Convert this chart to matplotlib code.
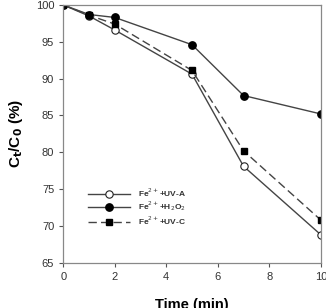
import matplotlib
matplotlib.use('Agg')
import matplotlib.pyplot as plt

plt.rcParams['font.family'] = ['Liberation Sans', 'DejaVu Sans']

# Données
time = [0, 1, 2, 5, 7, 10]
uva = [100, 98.5, 96.6, 90.6, 78.1, 68.8]
h2o2 = [100, 98.7, 98.3, 94.6, 87.7, 85.2]
uvc = [100, 98.6, 97.4, 91.1, 80.2, 70.8]
labels = ['Fe$^{2+}$+UV-A', 'Fe$^{2+}$+H$_2$O$_2$', 'Fe$^{2+}$+UV-C']

fig = plt.figure(figsize=(3.26, 3.08), dpi=100)
ax = fig.add_axes([0.194, 0.147, 0.790, 0.837])

lc = '#444444'
ax.plot(time, uva, '-', color=lc, lw=1, marker='o', ms=5.3, mfc='white', mec='#222222', mew=0.8, label=labels[0])
ax.plot(time, h2o2, '-', color=lc, lw=1, marker='o', ms=5.3, mfc='black', mec='black', label=labels[1])
ax.plot(time, uvc, '--', color=lc, lw=1, dashes=(6, 3), marker='s', ms=4.7, mfc='black', mec='black', label=labels[2])

ax.set_xlim(0, 10)
ax.set_ylim(65, 100)
ax.set_xticks([0, 2, 4, 6, 8, 10])
ax.set_yticks([65, 70, 75, 80, 85, 90, 95, 100])
ax.tick_params(direction='out', length=3, width=0.8, labelsize=8, colors='#555555', labelcolor='#333333')
for s in ax.spines.values():
    s.set_color('#888888')
    s.set_linewidth(0.9)

ax.set_xlabel('Time (min)', fontsize=10.5, fontweight='bold', labelpad=12)
ax.set_ylabel('C$_\\mathbf{t}$/C$_\\mathbf{0}$ (%)', fontsize=11, fontweight='bold', labelpad=8)

leg = ax.legend(loc='upper left', bbox_to_anchor=(0.085, 0.31), frameon=False,
                prop={'size': 6, 'weight': 'bold'},
                handlelength=5.0, labelspacing=0.12, handletextpad=0.9, borderaxespad=0)
for t in leg.get_texts():
    t.set_color('#333333')

fig.savefig('out.png', dpi=100)
